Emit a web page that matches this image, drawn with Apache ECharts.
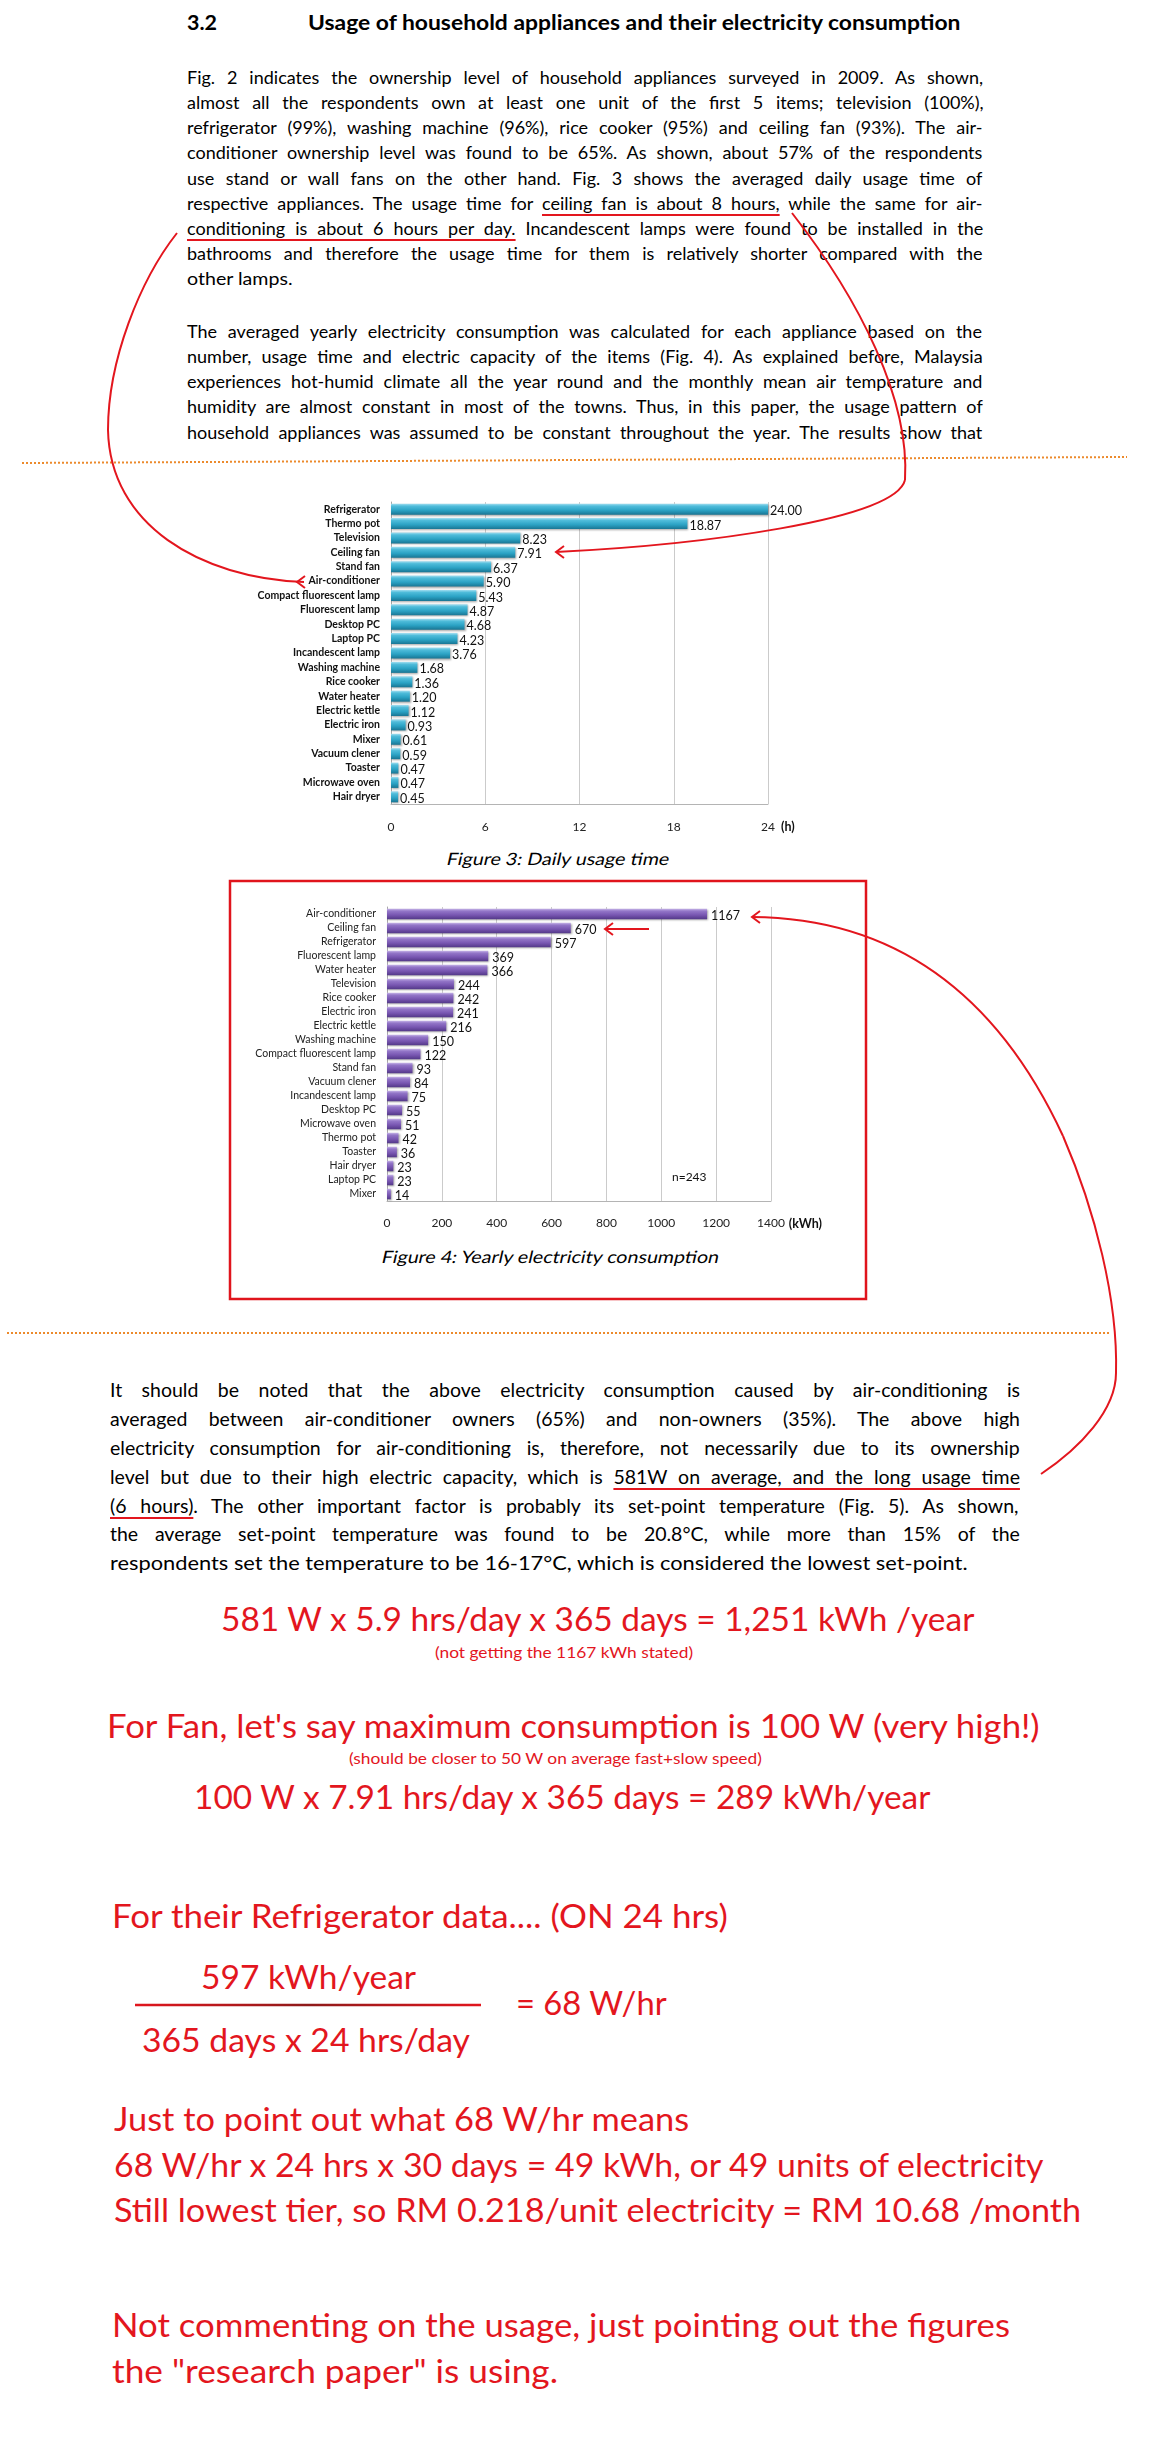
<!DOCTYPE html>
<html>
<head>
<meta charset="utf-8">
<title>Usage of household appliances and their electricity consumption</title>
<script src="https://cdn.jsdelivr.net/npm/echarts/dist/echarts.min.js"></script>
<style>
  html, body { margin: 0; padding: 0; background: #fff; }
  #page { position: relative; width: 1150px; height: 2463px; overflow: hidden; }
  #text { position: absolute; left: 0; top: 0; width: 1150px; height: 2463px; z-index: 1; }
  #main { position: absolute; left: 0; top: 0; width: 1150px; height: 2463px; z-index: 2; pointer-events: none; }
  .ln { position: absolute; white-space: nowrap; font-family: Lato, 'Open Sans', sans-serif; transform-origin: 0 50%; }
  .u { text-decoration: underline; text-decoration-color: #e3161e; text-decoration-thickness: 2px; text-underline-offset: 4px; }
</style>
</head>
<body>
<div id="page">
  <div id="text"></div>
  <div id="main"></div>
</div>
<script>
// Figure 3: daily usage time (h)
const usageCategories = ['Refrigerator', 'Thermo pot', 'Television', 'Ceiling fan', 'Stand fan', 'Air-conditioner',
  'Compact fluorescent lamp', 'Fluorescent lamp', 'Desktop PC', 'Laptop PC', 'Incandescent lamp', 'Washing machine',
  'Rice cooker', 'Water heater', 'Electric kettle', 'Electric iron', 'Mixer', 'Vacuum clener', 'Toaster',
  'Microwave oven', 'Hair dryer'];
const usageHours = [24.00, 18.87, 8.23, 7.91, 6.37, 5.90, 5.43, 4.87, 4.68, 4.23, 3.76, 1.68, 1.36, 1.20, 1.12,
  0.93, 0.61, 0.59, 0.47, 0.47, 0.45];
const usageTicks = { min: 0, max: 24, interval: 6 };

// Figure 4: yearly electricity consumption (kWh)
const energyCategories = ['Air-conditioner', 'Ceiling fan', 'Refrigerator', 'Fluorescent lamp', 'Water heater',
  'Television', 'Rice cooker', 'Electric iron', 'Electric kettle', 'Washing machine', 'Compact fluorescent lamp',
  'Stand fan', 'Vacuum clener', 'Incandescent lamp', 'Desktop PC', 'Microwave oven', 'Thermo pot', 'Toaster',
  'Hair dryer', 'Laptop PC', 'Mixer'];
const energyKwh = [1167, 670, 597, 369, 366, 244, 242, 241, 216, 150, 122, 93, 84, 75, 55, 51, 42, 36, 23, 23, 14];
const energyTicks = { min: 0, max: 1400, interval: 200 };

const RED = '#e3161e';

// page text, one entry per printed line (x = left, y = middle of the capitals, w = printed width)
const P1 = { x: 187, w: 797, s: 18 };
const P3 = { x: 110, w: 911, s: 19.5 };
const textLines = [
  { t: '3.2', x: 187, y: 23, w: 30, s: 20, b: 1 },
  { t: 'Usage of household appliances and their electricity consumption', x: 308, y: 23, w: 654, s: 20, b: 1 },

  { ...P1, y: 78, j: 1, t: 'Fig. 2 indicates the ownership level of household appliances surveyed in 2009. As shown,' },
  { ...P1, y: 103, j: 1, t: 'almost all the respondents own at least one unit of the first 5 items; television (100%),' },
  { ...P1, y: 128, j: 1, t: 'refrigerator (99%), washing machine (96%), rice cooker (95%) and ceiling fan (93%). The air-' },
  { ...P1, y: 153, j: 1, t: 'conditioner ownership level was found to be 65%. As shown, about 57% of the respondents' },
  { ...P1, y: 179, j: 1, t: 'use stand or wall fans on the other hand. Fig. 3 shows the averaged daily usage time of' },
  { ...P1, y: 204, j: 1, t: 'respective appliances. The usage time for [u]ceiling fan is about 8 hours,[/u] while the same for air-' },
  { ...P1, y: 229, j: 1, t: '[u]conditioning is about 6 hours per day.[/u] Incandescent lamps were found to be installed in the' },
  { ...P1, y: 254, j: 1, t: 'bathrooms and therefore the usage time for them is relatively shorter compared with the' },
  { ...P1, y: 279, w: 106, t: 'other lamps.' },

  { ...P1, y: 332, j: 1, t: 'The averaged yearly electricity consumption was calculated for each appliance based on the' },
  { ...P1, y: 357, j: 1, t: 'number, usage time and electric capacity of the items (Fig. 4). As explained before, Malaysia' },
  { ...P1, y: 382, j: 1, t: 'experiences hot-humid climate all the year round and the monthly mean air temperature and' },
  { ...P1, y: 407, j: 1, t: 'humidity are almost constant in most of the towns. Thus, in this paper, the usage pattern of' },
  { ...P1, y: 433, j: 1, t: 'household appliances was assumed to be constant throughout the year. The results show that' },

  { t: 'Figure 3: Daily usage time', x: 447, y: 860, w: 223, s: 17, i: 1 },
  { t: 'Figure 4: Yearly electricity consumption', x: 382, y: 1258, w: 339, s: 17, i: 1 },

  { ...P3, y: 1390, j: 1, t: 'It should be noted that the above electricity consumption caused by air-conditioning is' },
  { ...P3, y: 1419, j: 1, t: 'averaged between air-conditioner owners (65%) and non-owners (35%). The above high' },
  { ...P3, y: 1448, j: 1, t: 'electricity consumption for air-conditioning is, therefore, not necessarily due to its ownership' },
  { ...P3, y: 1477, j: 1, t: 'level but due to their high electric capacity, which is [u]581W on average, and the long usage time[/u]' },
  { ...P3, y: 1506, j: 1, t: '[u](6 hours)[/u]. The other important factor is probably its set-point temperature (Fig. 5). As shown,' },
  { ...P3, y: 1534, j: 1, t: 'the average set-point temperature was found to be 20.8°C, while more than 15% of the' },
  { ...P3, y: 1563, w: 858, t: 'respondents set the temperature to be 16-17°C, which is considered the lowest set-point.' },

  { t: '581 W x 5.9 hrs/day x 365 days = 1,251 kWh /year', x: 221, y: 1620, w: 755, s: 32, c: RED },
  { t: '(not getting the 1167 kWh stated)', x: 435, y: 1652, w: 258, s: 15, c: RED },
  { t: "For Fan, let's say maximum consumption is 100 W (very high!)", x: 107, y: 1727, w: 936, s: 32, c: RED },
  { t: '(should be closer to 50 W on average fast+slow speed)', x: 349, y: 1758, w: 414, s: 15, c: RED },
  { t: '100 W x 7.91 hrs/day x 365 days = 289 kWh/year', x: 194, y: 1798, w: 738, s: 32, c: RED },
  { t: 'For their Refrigerator data.... (ON 24 hrs)', x: 112, y: 1917, w: 618, s: 32, c: RED },
  { t: '597 kWh/year', x: 201, y: 1978, w: 215, s: 32, c: RED },
  { t: '= 68 W/hr', x: 516, y: 2004, w: 151, s: 32, c: RED },
  { t: '365 days x 24 hrs/day', x: 142, y: 2041, w: 328, s: 32, c: RED },
  { t: 'Just to point out what 68 W/hr means', x: 114, y: 2120, w: 577, s: 32, c: RED },
  { t: '68 W/hr x 24 hrs x 30 days = 49 kWh, or 49 units of electricity', x: 114, y: 2166, w: 932, s: 32, c: RED },
  { t: 'Still lowest tier, so RM 0.218/unit electricity = RM 10.68 /month', x: 114, y: 2211, w: 968, s: 32, c: RED },
  { t: 'Not commenting on the usage, just pointing out the figures', x: 112, y: 2326, w: 898, s: 32, c: RED },
  { t: 'the "research paper" is using.', x: 112, y: 2372, w: 446, s: 32, c: RED }
];

// lay out the text lines; justified lines get word spacing, others are squeezed to the printed width
// (italic is drawn as slanted upright Lato, the italic face is not there)
const measure = document.createElement('canvas').getContext('2d');
const textLayer = document.getElementById('text');
textLines.forEach(function (L) {
  const el = document.createElement('div');
  el.className = 'ln';
  el.style.fontSize = L.s + 'px';
  el.style.fontWeight = L.b ? 'bold' : 'normal';
  el.style.lineHeight = '1.2';
  el.style.color = L.c || '#000';
  el.style.left = L.x + 'px';
  el.style.top = (L.y - 0.629 * L.s) + 'px';
  const plain = L.t.replace(/\[\/?u\]/g, '');
  el.textContent = plain;
  if (L.t.indexOf('[u]') >= 0) {
    const esc = L.t.replace(/&/g, '&amp;').replace(/</g, '&lt;');
    el.innerHTML = esc.replace('[u]', '<span class="u">').replace('[/u]', '</span>');
  }
  measure.font = (L.b ? 'bold ' : '') + L.s + 'px Lato';
  const natural = measure.measureText(plain).width;
  const spaces = (plain.match(/ /g) || []).length;
  const skew = L.i ? ' skewX(-11deg)' : '';
  if (L.j && spaces && L.w - natural >= 0) {
    el.style.wordSpacing = ((L.w - natural) / spaces) + 'px';
  } else if (L.w) {
    el.style.transform = 'scaleX(' + (L.w / natural).toFixed(4) + ')' + skew;
  }
  textLayer.appendChild(el);
});

function barGradient(stops) {
  return new echarts.graphic.LinearGradient(0, 0, 0, 1, stops.map(function (c, i) {
    return { offset: [0, 0.22, 0.6, 1][i], color: c };
  }));
}

const red = { stroke: RED, lineWidth: 2, fill: 'none' };
function arrowLeft(x, y) {
  return { type: 'polyline', z: 100, shape: { points: [[x + 8, y - 6], [x, y], [x + 8, y + 6]] }, style: red };
}

const chart = echarts.init(document.getElementById('main'));
const option = {
  animation: false,
  textStyle: { fontFamily: 'Lato' },
  grid: [
    { left: 391, top: 502, width: 377, height: 302 },
    { left: 387, top: 907, width: 384, height: 294 }
  ],
  xAxis: [
    {
      gridIndex: 0, type: 'value', min: usageTicks.min, max: usageTicks.max, interval: usageTicks.interval,
      name: '(h)', nameLocation: 'end', nameGap: 13,
      nameTextStyle: { fontWeight: 'bold', fontSize: 12.5, color: '#111', verticalAlign: 'top', padding: [16, 0, 0, 0] },
      axisLine: { show: true, lineStyle: { color: '#b4b4b4' } },
      axisTick: { show: false },
      splitLine: { lineStyle: { color: '#cbcbcb' } },
      axisLabel: { color: '#222', fontSize: 12, margin: 17, formatter: function (v) { return String(v); } }
    },
    {
      gridIndex: 1, type: 'value', min: energyTicks.min, max: energyTicks.max, interval: energyTicks.interval,
      name: '(kWh)', nameLocation: 'end', nameGap: 15,
      nameTextStyle: { fontWeight: 'bold', fontSize: 12.5, color: '#111', verticalAlign: 'top', padding: [16, 0, 0, 0] },
      axisLine: { show: true, lineStyle: { color: '#b4b4b4' } },
      axisTick: { show: false },
      splitLine: { lineStyle: { color: '#cbcbcb' } },
      axisLabel: { color: '#222', fontSize: 12, margin: 16, formatter: function (v) { return String(v); } }
    }
  ],
  yAxis: [
    {
      gridIndex: 0, type: 'category', inverse: true, data: usageCategories,
      axisLine: { lineStyle: { color: '#a8a8a8' } },
      axisTick: { length: 4, interval: 0, lineStyle: { color: '#a8a8a8' } },
      axisLabel: { interval: 0, fontSize: 10.5, fontWeight: 'bold', color: '#111', margin: 11 }
    },
    {
      gridIndex: 1, type: 'category', inverse: true, data: energyCategories,
      axisLine: { lineStyle: { color: '#a8a8a8' } },
      axisTick: { length: 4, interval: 0, lineStyle: { color: '#a8a8a8' } },
      axisLabel: { interval: 0, fontSize: 10.5, color: '#222', margin: 11 }
    }
  ],
  series: [
    {
      type: 'bar', xAxisIndex: 0, yAxisIndex: 0, data: usageHours, barWidth: 11,
      itemStyle: {
        color: barGradient(['#a3def0', '#4fbcda', '#2ba2c4', '#197593']),
        shadowColor: 'rgba(0,0,0,0.35)', shadowBlur: 2, shadowOffsetX: 1, shadowOffsetY: 1
      },
      label: {
        show: true, position: 'right', distance: 2, fontSize: 12.5, color: '#111', offset: [0, 2],
        formatter: function (p) { return p.value.toFixed(2); }
      }
    },
    {
      type: 'bar', xAxisIndex: 1, yAxisIndex: 1, data: energyKwh, barWidth: 10.5,
      itemStyle: {
        color: barGradient(['#c6b4e8', '#9376c8', '#7856b1', '#533888']),
        shadowColor: 'rgba(0,0,0,0.35)', shadowBlur: 2, shadowOffsetX: 1, shadowOffsetY: 1
      },
      label: { show: true, position: 'right', distance: 4, fontSize: 12.5, color: '#111', offset: [0, 2] }
    }
  ],
  graphic: [
    // section separators
    { type: 'line', z: 90, shape: { x1: 22, y1: 463, x2: 1127, y2: 457 }, style: { stroke: '#ec8a2c', lineWidth: 2, lineDash: [2, 2] } },
    { type: 'line', z: 90, shape: { x1: 7, y1: 1333, x2: 1109, y2: 1333 }, style: { stroke: '#ec8a2c', lineWidth: 2, lineDash: [2, 2] } },
    // frame around figure 4
    { type: 'rect', z: 90, shape: { x: 230, y: 881, width: 636, height: 418 }, style: { stroke: '#e0141c', lineWidth: 2.5, fill: 'none' } },
    // sample size
    { type: 'text', x: 672, y: 1177, style: { text: 'n=243', fontFamily: 'Lato', fontSize: 12, fill: '#111', verticalAlign: 'middle' } },
    // hand-drawn annotations
    { type: 'bezierCurve', z: 100, shape: { x1: 177, y1: 233, cpx1: 140, cpy1: 280, cpx2: 108, cpy2: 360, x2: 108, y2: 430 }, style: red },
    { type: 'bezierCurve', z: 100, shape: { x1: 108, y1: 430, cpx1: 110, cpy1: 525, cpx2: 200, cpy2: 578, x2: 304, y2: 582 }, style: red },
    arrowLeft(297, 582),
    { type: 'bezierCurve', z: 100, shape: { x1: 792, y1: 213, cpx1: 860, cpy1: 300, cpx2: 910, cpy2: 400, x2: 905, y2: 480 }, style: red },
    { type: 'bezierCurve', z: 100, shape: { x1: 905, y1: 480, cpx1: 895, cpy1: 520, cpx2: 700, cpy2: 545, x2: 556, y2: 552 }, style: red },
    arrowLeft(556, 552),
    { type: 'line', z: 100, shape: { x1: 605, y1: 929, x2: 649, y2: 929 }, style: red },
    arrowLeft(605, 929),
    { type: 'bezierCurve', z: 100, shape: { x1: 752, y1: 917, cpx1: 900, cpy1: 918, cpx2: 1000, cpy2: 1000, x2: 1063, y2: 1136 }, style: red },
    { type: 'bezierCurve', z: 100, shape: { x1: 1063, y1: 1136, cpx1: 1095, cpy1: 1210, cpx2: 1118, cpy2: 1300, x2: 1116, y2: 1373 }, style: red },
    { type: 'bezierCurve', z: 100, shape: { x1: 1116, y1: 1373, cpx1: 1116, cpy1: 1410, cpx2: 1080, cpy2: 1448, x2: 1041, y2: 1474 }, style: red },
    arrowLeft(752, 917),
    // fraction bar
    {
      type: 'line', z: 100, shape: { x1: 135, y1: 2005, x2: 481, y2: 2005 },
      style: {
        lineWidth: 2.5,
        stroke: new echarts.graphic.LinearGradient(0, 0, 1, 0, [
          { offset: 0, color: RED }, { offset: 0.5, color: '#8e1a1a' }, { offset: 1, color: RED }
        ])
      }
    }
  ]
};
chart.setOption(option);
</script>
</body>
</html>
